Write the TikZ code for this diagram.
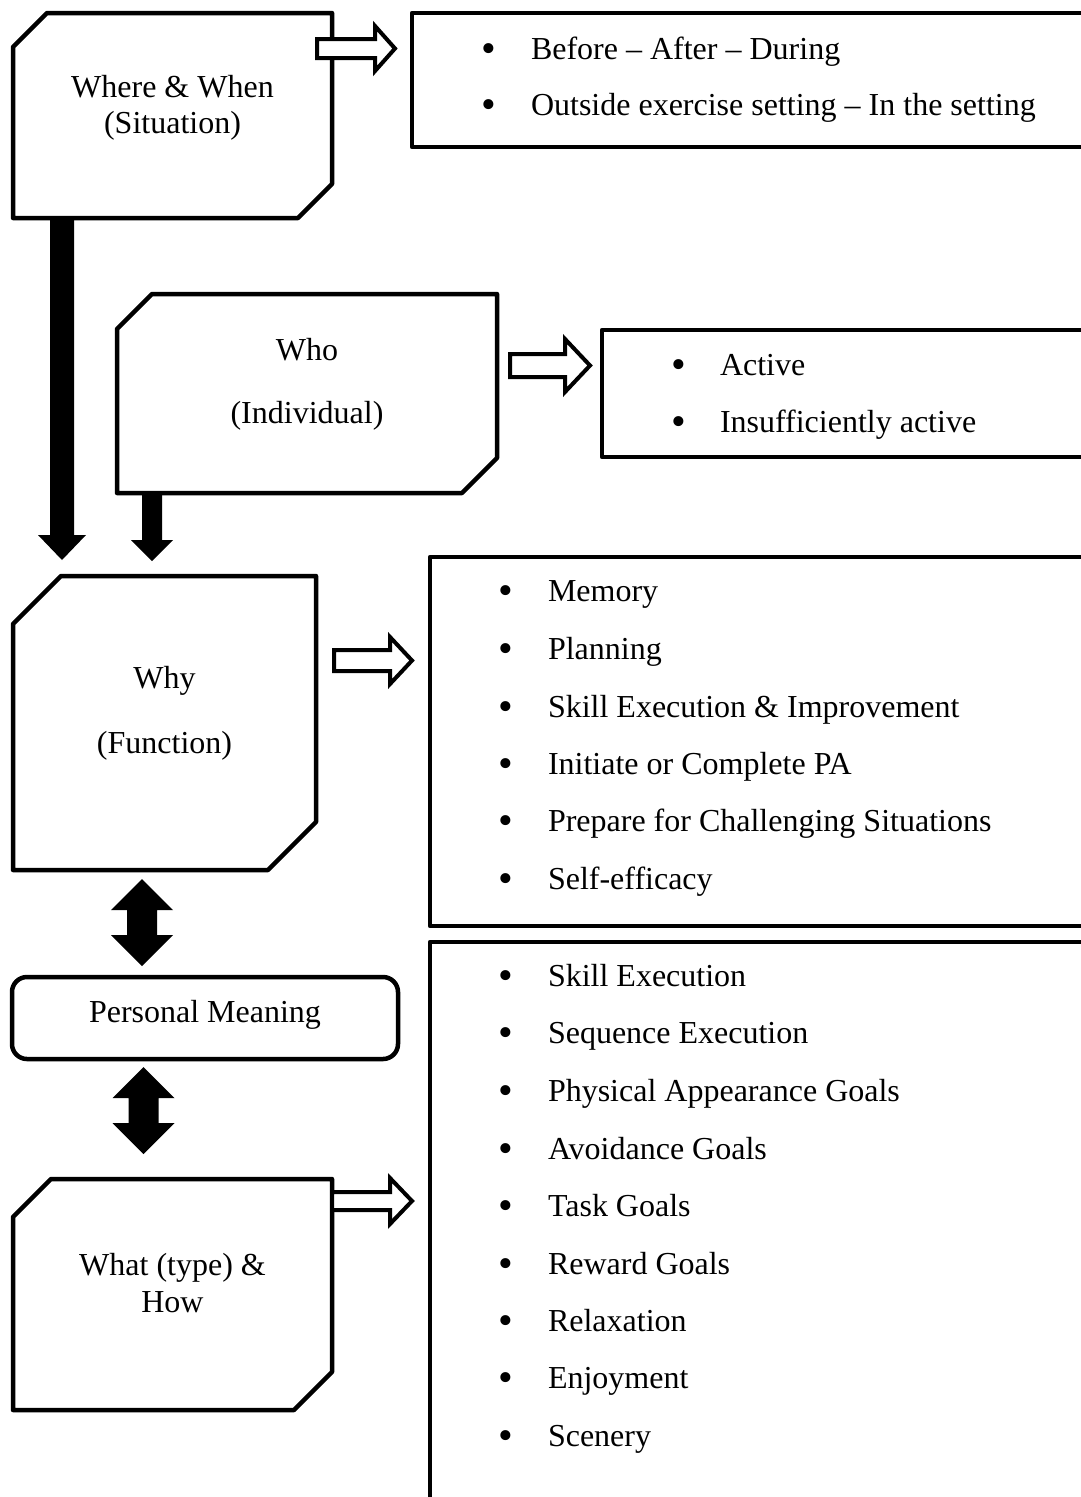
\documentclass[tikz,border=0pt]{standalone}
\usepackage{fontspec}
\setmainfont{Liberation Serif}
% chamfered outline (top-left and bottom-right corners cut) around a named node
\newcommand\chamfered[2]{%
  \draw[boxline] ([yshift=-#2]#1.north west) -- ([xshift=#2]#1.north west)
    -- (#1.north east) -- ([yshift=#2]#1.south east)
    -- ([xshift=-#2]#1.south east) -- (#1.south west) -- cycle;}
\begin{document}
\begin{tikzpicture}[x=1pt,y=-1pt,
  every node/.style={inner sep=0pt,outer sep=0pt,font=\fontsize{32}{38}\selectfont},
  area/.style={draw=none},
  boxline/.style={draw=black,line width=4.5pt,line join=round,fill=white},
  listbox/.style={draw=black,line width=4.5pt,line join=round,anchor=north west},
  hollow/.style={draw=black,line width=4pt,line join=miter,fill=white},
  solidarrow/.style={fill=black},
  item/.style={anchor=base west},
  dot/.style={anchor=base,yshift=-3.5pt,font=\fontsize{42}{42}\selectfont},
  title/.style={anchor=base}]
\useasboundingbox (0,0) rectangle (1081,1497);
\clip (0,0) rectangle (1081,1497);
\fill[white] (0,0) rectangle (1081,1497);

% left column boxes
\node[area,minimum width=319pt,minimum height=205pt] (where) at (172.5,115.5) {};
\node[area,minimum width=380pt,minimum height=199pt] (who) at (307,393.5) {};
\node[area,minimum width=303pt,minimum height=294pt] (why) at (164.5,723) {};
\node[area,minimum width=319pt,minimum height=231pt] (what) at (172.5,1294.5) {};
\chamfered{where}{34pt}
\chamfered{who}{35pt}
\chamfered{why}{48pt}
\chamfered{what}{38pt}
\node[draw=black,line width=4.5pt,rounded corners=15pt,minimum width=386pt,minimum height=82pt] (pm) at (205,1018) {};

% right column lists (running off the page edge)
\node[listbox,minimum width=690pt,minimum height=134pt] (listA) at (412,13) {};
\node[listbox,minimum width=500pt,minimum height=127pt] (listB) at (602,330) {};
\node[listbox,minimum width=670pt,minimum height=369pt] (listC) at (430,557) {};
\node[listbox,minimum width=670pt,minimum height=600pt] (listD) at (430,942) {};

% solid arrows into the Why box
\fill[solidarrow] (50,218) -- (50,535) -- (38,535) -- (62,560) -- (86,535) -- (74,535) -- (74,218) -- cycle;
\fill[solidarrow] (142,493) -- (142,540) -- (131,540) -- (152,561) -- (173,540) -- (162,540) -- (162,493) -- cycle;

% double-headed arrows around Personal Meaning
\coordinate (dblA) at (142,922.5);
\coordinate (dblB) at (143.5,1110.5);
\foreach \c in {dblA,dblB}
  \fill[solidarrow] (\c) ++(0,-43.5) -- ++(31,31) -- ++(-16,0) -- ++(0,25) -- ++(16,0)
    -- ++(-31,31) -- ++(-31,-31) -- ++(16,0) -- ++(0,-25) -- ++(-16,0) -- cycle;

% hollow arrows towards the lists
\draw[hollow] (317,39) -- (375,39) -- (375,26) -- (395,48.5) -- (375,71) -- (375,58) -- (317,58) -- cycle;
\draw[hollow] (510,354) -- (565,354) -- (565,339) -- (590,365.5) -- (565,392) -- (565,377) -- (510,377) -- cycle;
\draw[hollow] (334,650) -- (390,650) -- (390,637) -- (412,660.5) -- (390,684) -- (390,671) -- (334,671) -- cycle;
\draw[hollow] (332,1192) -- (390,1192) -- (390,1178) -- (412,1201) -- (390,1224) -- (390,1210) -- (332,1210) -- cycle;

% box titles
\node[title] (whereT1) at (172.5,97) {Where \& When};
\node[title] (whereT2) at (172.5,133) {(Situation)};
\node[title] (whoT1) at (307,360) {Who};
\node[title] (whoT2) at (307,423) {(Individual)};
\node[title] (whyT1) at (164.5,688) {Why};
\node[title] (whyT2) at (164.5,753) {(Function)};
\node[title] (pmT) at (205,1022) {Personal Meaning};
\node[title] (whatT1) at (172.5,1275) {What (type) \&};
\node[title] (whatT2) at (172.5,1312) {How};

% list items
\foreach \y/\t in {59/Before – After – During, 115/Outside exercise setting – In the setting}{
  \node[dot] at (489,\y) {•};
  \node[item] at (531,\y) {\t};}
\foreach \y/\t in {375/Active, 432/Insufficiently active}{
  \node[dot] at (679,\y) {•};
  \node[item] at (720,\y) {\t};}
\foreach \y/\t in {601/Memory, 659/Planning, 717/Skill Execution \& Improvement,
    774/Initiate or Complete PA, 831/Prepare for Challenging Situations, 889/Self-efficacy}{
  \node[dot] at (506,\y) {•};
  \node[item] at (548,\y) {\t};}
\foreach \y/\t in {986/Skill Execution, 1043/Sequence Execution, 1101/Physical Appearance Goals,
    1159/Avoidance Goals, 1216/Task Goals, 1274/Reward Goals, 1331/Relaxation,
    1388/Enjoyment, 1446/Scenery}{
  \node[dot] at (506,\y) {•};
  \node[item] at (548,\y) {\t};}
\end{tikzpicture}
\end{document}
